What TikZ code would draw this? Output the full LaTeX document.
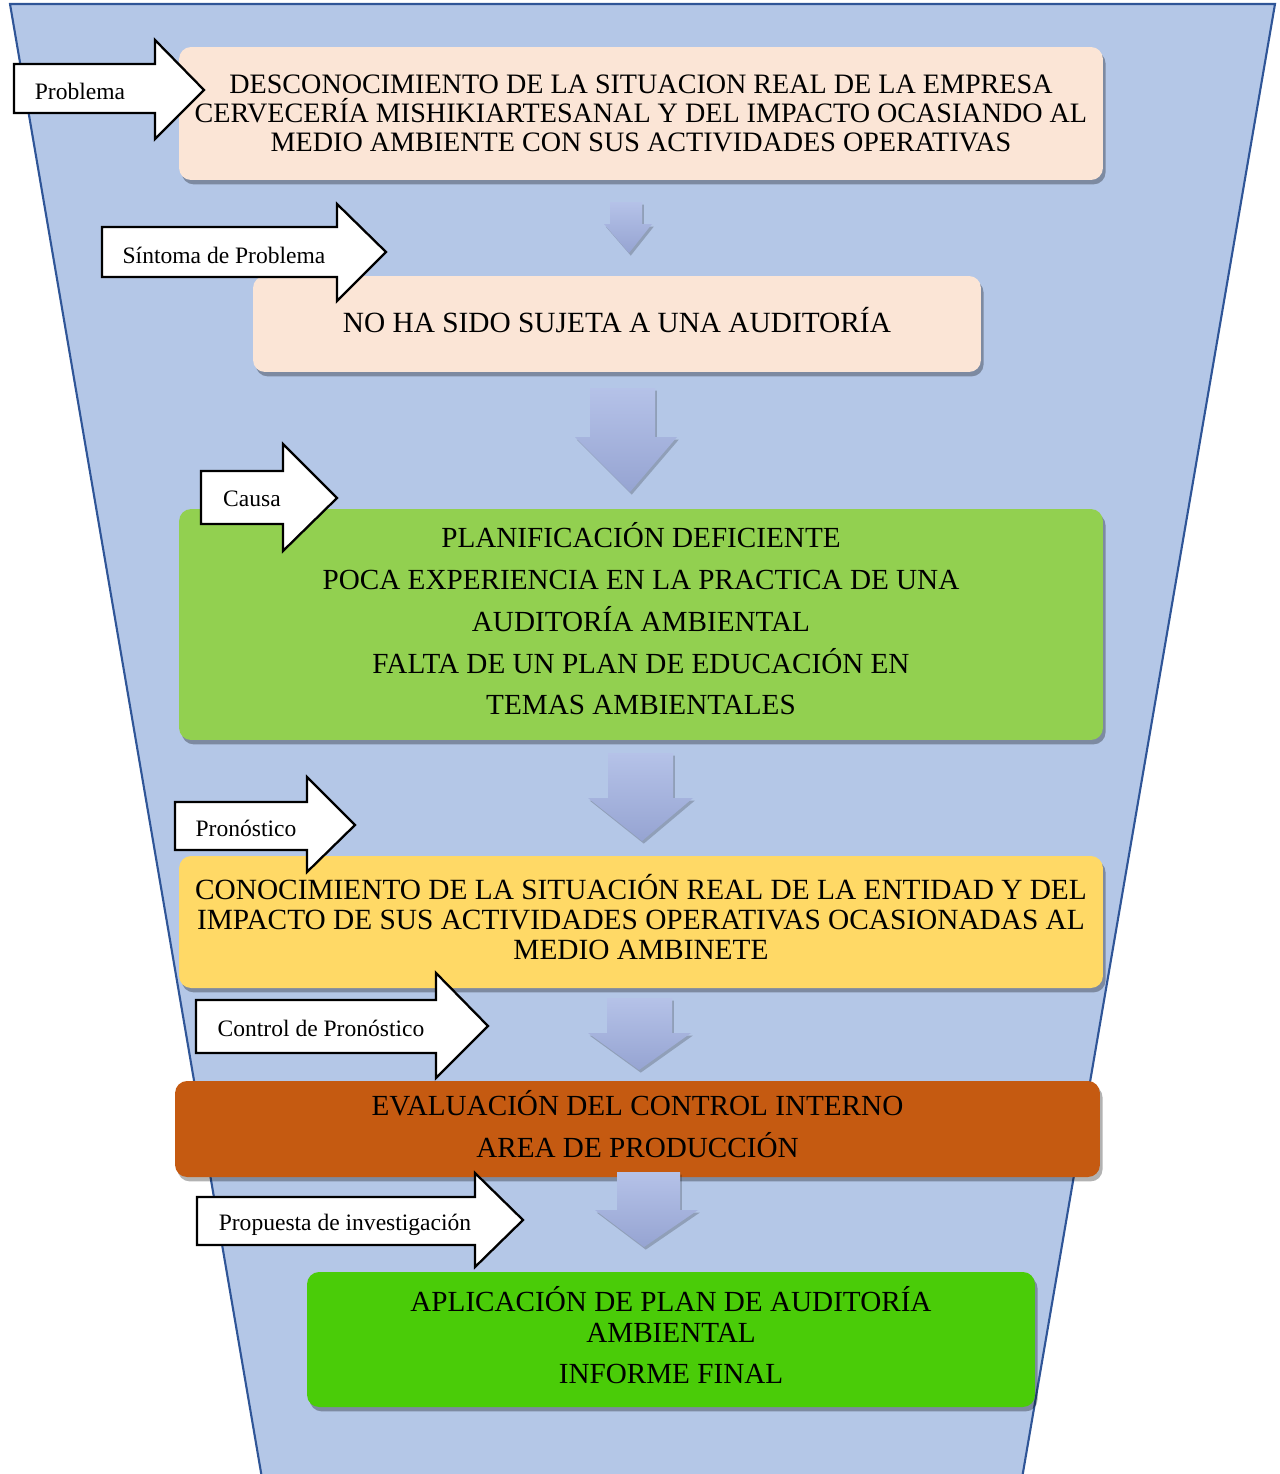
\documentclass[tikz,border=0pt]{standalone}
\usepackage{fontspec}
\setmainfont{Liberation Serif}
\usetikzlibrary{shadows}
\definecolor{embudo}{HTML}{B4C7E7}
\definecolor{bordeembudo}{HTML}{2F5597}
\definecolor{salmon}{HTML}{FBE5D6}
\definecolor{verdeclaro}{HTML}{92D050}
\definecolor{amarillo}{HTML}{FFD966}
\definecolor{naranja}{HTML}{C55A11}
\definecolor{verdevivo}{HTML}{4ACC08}
\definecolor{flechaarriba}{HTML}{B5C2E8}
\definecolor{flechaabajo}{HTML}{96A4D2}
\begin{document}
\begin{tikzpicture}[x=0.02cm, y=-0.02cm,
        caja/.style={rectangle, rounded corners=0.24cm, align=center, inner sep=0pt,
            drop shadow={shadow xshift=1.5pt, shadow yshift=-2.5pt, opacity=0.3, fill=black}},
        etiqueta/.style={draw=black, fill=white, line width=1.3pt, line join=miter},
        textoetiqueta/.style={inner sep=0pt, font=\fontsize{13.4}{16}\selectfont},
        bajada/.style={top color=flechaarriba, bottom color=flechaabajo,
            drop shadow={shadow xshift=1pt, shadow yshift=-1.5pt, opacity=0.2, fill=black}}]
        \useasboundingbox (0,0) rectangle (1279,1474);

        % funnel
        \draw[draw=bordeembudo, fill=embudo, line width=1.2pt] (10,4) -- (1275,4) -- (1020,1490) -- (264,1490) -- cycle;

        %draw nodes by coordinates
        \node[caja, fill=salmon, minimum width=18.48cm, minimum height=2.66cm,
            font=\fontsize{16}{16.4}\selectfont] (desconocimiento) at (641,113.5)
            {DESCONOCIMIENTO DE LA SITUACION REAL DE LA EMPRESA\\CERVECERÍA MISHIKIARTESANAL Y DEL IMPACTO OCASIANDO AL\\MEDIO AMBIENTE CON SUS ACTIVIDADES OPERATIVAS};
        \node[caja, fill=salmon, minimum width=14.56cm, minimum height=1.92cm, text depth=5pt,
            font=\fontsize{16.7}{17}\selectfont] (auditoria) at (617,324)
            {NO HA SIDO SUJETA A UNA AUDITORÍA};
        \node[caja, fill=verdeclaro, minimum width=18.48cm, minimum height=4.62cm, text depth=6.5pt,
            font=\fontsize{16.6}{23.8}\selectfont] (planificacion) at (641,624.5)
            {PLANIFICACIÓN DEFICIENTE\\POCA EXPERIENCIA EN LA PRACTICA DE UNA\\AUDITORÍA AMBIENTAL\\FALTA DE UN PLAN DE EDUCACIÓN EN\\TEMAS AMBIENTALES};
        \node[caja, fill=amarillo, minimum width=18.48cm, minimum height=2.64cm, text depth=6pt,
            font=\fontsize{16.7}{17}\selectfont] (conocimiento) at (641,922)
            {CONOCIMIENTO DE LA SITUACIÓN REAL DE LA ENTIDAD Y DEL\\IMPACTO DE SUS ACTIVIDADES OPERATIVAS OCASIONADAS AL\\MEDIO AMBINETE};
        \node[caja, fill=naranja, minimum width=18.5cm, minimum height=1.92cm, text depth=5.5pt,
            font=\fontsize{16.6}{23.8}\selectfont] (evaluacion) at (637.5,1129)
            {EVALUACIÓN DEL CONTROL INTERNO\\AREA DE PRODUCCIÓN};
        \node[caja, fill=verdevivo, minimum width=14.56cm, minimum height=2.7cm, text depth=5pt,
            font=\fontsize{16.6}{17.6}\selectfont] (aplicacion) at (671,1339.5)
            {APLICACIÓN DE PLAN DE AUDITORÍA\\AMBIENTAL\\[6pt]INFORME FINAL};

        % down arrows
        \shade[bajada] (610,202) -- (642,202) -- (642,224) -- (652,224) -- (629,253) -- (604,224) -- (610,224) -- cycle;
        \shade[bajada] (590,388) -- (655,388) -- (655,437) -- (677,437) -- (630,492) -- (575,437) -- (590,437) -- cycle;
        \shade[bajada] (608,753) -- (673,753) -- (673,798) -- (693,798) -- (642,841) -- (588,798) -- (608,798) -- cycle;
        \shade[bajada] (607,998) -- (672,998) -- (672,1033) -- (691,1033) -- (639,1070) -- (588,1033) -- (607,1033) -- cycle;
        \shade[bajada] (617,1172) -- (680,1172) -- (680,1210) -- (698,1210) -- (644,1247) -- (595,1210) -- (617,1210) -- cycle;

        % label arrows
        \draw[etiqueta] (14,64) -- (155,64) -- (155,40) -- (204,90) -- (155,139) -- (155,113) -- (14,113) -- cycle;
        \node[textoetiqueta] (tproblema) at (80,91) {Problema};
        \draw[etiqueta] (102,227) -- (337,227) -- (337,204) -- (386,252) -- (337,301) -- (337,277) -- (102,277) -- cycle;
        \node[textoetiqueta] (tsintoma) at (224,255) {Síntoma de Problema};
        \draw[etiqueta] (201,471) -- (283,471) -- (283,444) -- (337,498) -- (283,551) -- (283,524) -- (201,524) -- cycle;
        \node[textoetiqueta] (tcausa) at (252,499) {Causa};
        \draw[etiqueta] (175,802) -- (307,802) -- (307,777) -- (355,825) -- (307,872) -- (307,850) -- (175,850) -- cycle;
        \node[textoetiqueta] (tpronostico) at (246,828) {Pronóstico};
        \draw[etiqueta] (196,1000) -- (436,1000) -- (436,973) -- (488,1026) -- (436,1078) -- (436,1053) -- (196,1053) -- cycle;
        \node[textoetiqueta] (tcontrol) at (321,1028) {Control de Pronóstico};
        \draw[etiqueta] (197,1197) -- (475,1197) -- (475,1173) -- (523,1220) -- (475,1267) -- (475,1245) -- (197,1245) -- cycle;
        \node[textoetiqueta] (tpropuesta) at (345,1225) {Propuesta de investigación};
    \end{tikzpicture}
\end{document}
